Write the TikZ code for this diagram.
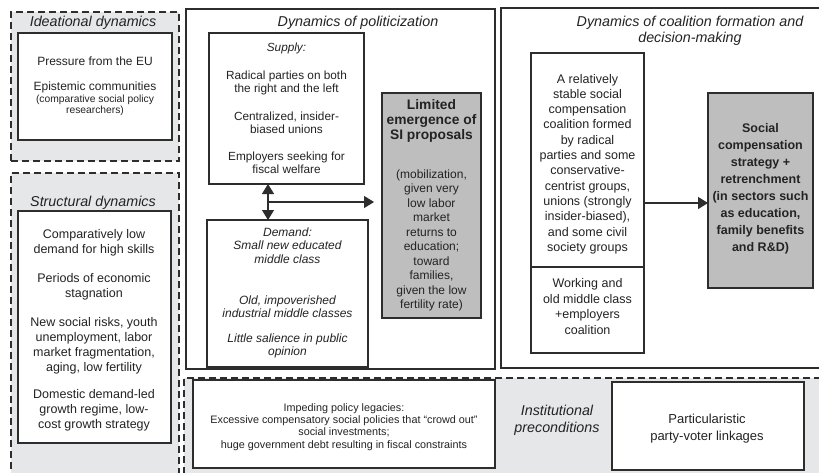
\documentclass[tikz,border=0pt]{standalone}
\usepackage{fontspec}
\setmainfont{Liberation Sans}
\usetikzlibrary{arrows.meta}
\definecolor{lc}{RGB}{45,45,45}
\definecolor{tc}{RGB}{35,35,35}
\definecolor{bg}{RGB}{230,231,232}
\definecolor{gb}{RGB}{190,190,190}
\begin{document}
\begin{tikzpicture}[x=1pt,y=-1pt,
  dashbox/.style={draw=lc, line width=1.3pt, dash pattern=on 7pt off 4pt, fill=bg, inner sep=0pt, outer sep=0pt, anchor=north west},
  solidbox/.style={draw=lc, line width=1.1pt, fill=white, inner sep=0pt, outer sep=0pt, anchor=north west},
  graybox/.style={solidbox, fill=gb},
  ttl/.style={font=\itshape\fontsize{14.3}{17}\selectfont, text=tc, align=center, inner sep=0pt},
  txt/.style={text=tc, align=center, inner sep=0pt},
  arr/.style={draw=lc, line width=1.3pt, -{Triangle[length=10pt,width=12pt]}},
  darr/.style={draw=lc, line width=1.3pt, {Triangle[length=10pt,width=12pt]}-{Triangle[length=10pt,width=12pt]}},
]
\useasboundingbox (0,0) rectangle (819,472);
% outer frames
\node[dashbox, minimum width=168pt, minimum height=149pt] (ideas) at (11,12) {};
\node[dashbox, minimum width=168pt, minimum height=310pt] (struct) at (11,173) {};
\node[dashbox, minimum width=640pt, minimum height=105pt] (inst) at (184,378) {};
\node[solidbox, minimum width=309pt, minimum height=360pt] (polit) at (186,9) {};
\node[solidbox, minimum width=320pt, minimum height=360pt] (coal) at (501,8) {};
% inner boxes
\node[solidbox, minimum width=154pt, minimum height=107pt] (ideasin) at (18,33) {};
\node[solidbox, minimum width=153pt, minimum height=232pt] (structin) at (18,211) {};
\node[solidbox, minimum width=155pt, minimum height=151pt] (supply) at (209,33) {};
\node[solidbox, minimum width=161pt, minimum height=147pt] (demand) at (207,220) {};
\node[graybox, minimum width=99pt, minimum height=225pt] (sip) at (382,93) {};
\node[solidbox, minimum width=113pt, minimum height=214pt] (upper) at (531,53) {};
\node[solidbox, minimum width=113pt, minimum height=86pt] (lower) at (531,267) {};
\node[graybox, minimum width=105pt, minimum height=195pt] (soc) at (708,93) {};
\node[solidbox, minimum width=302pt, minimum height=88pt] (imped) at (193,380) {};
\node[solidbox, minimum width=192pt, minimum height=88pt] (partic) at (612,382) {};
% titles
\node[ttl] (ideasT) at (93,23) {Ideational dynamics};
\node[ttl] (structT) at (93,203) {Structural dynamics};
\node[ttl] (politT) at (358,23) {Dynamics of politicization};
\node[ttl, font=\itshape\fontsize{14.3}{16}\selectfont] (coalT) at (690,31) {Dynamics of coalition formation and\\decision-making};
\node[ttl] (instT) at (557,420.5) {Institutional\\preconditions};
% ideational texts
\node[txt, font=\fontsize{12}{14}\selectfont] (i1) at (95,61) {Pressure from the EU};
\node[txt, font=\fontsize{12}{14}\selectfont] (i2) at (95,87) {Epistemic communities};
\node[txt, font=\fontsize{10.3}{11.5}\selectfont] (i3) at (95,105.5) {(comparative social policy\\researchers)};
% structural texts
\begin{scope}[every node/.style={txt, font=\fontsize{12.5}{15}\selectfont}]
\node (s1) at (94,243) {Comparatively low\\demand for high skills};
\node (s2) at (94,287) {Periods of economic\\stagnation};
\node (s3) at (94,346) {New social risks, youth\\unemployment, labor\\market fragmentation,\\aging, low fertility};
\node (s4) at (94,410.5) {Domestic demand-led\\growth regime, low-\\cost growth strategy};
\end{scope}
% supply
\begin{scope}[every node/.style={txt, font=\fontsize{11.8}{13}\selectfont}]
\node[font=\itshape\fontsize{11.8}{13}\selectfont] (sup0) at (286.5,48) {Supply:};
\node (sup1) at (286.5,82.5) {Radical parties on both\\the right and the left};
\node (sup2) at (286.5,123) {Centralized, insider-\\biased unions};
\node (sup3) at (286.5,162.5) {Employers seeking for\\fiscal welfare};
\end{scope}
% demand
\begin{scope}[every node/.style={txt, font=\itshape\fontsize{12}{13.5}\selectfont}]
\node (dem1) at (287.5,245.5) {Demand:\\Small new educated\\middle class};
\node (dem2) at (287.5,306.5) {Old, impoverished\\industrial middle classes};
\node (dem3) at (287.5,346) {Little salience in public\\opinion};
\end{scope}
% gray box 1
\node[txt, font=\bfseries\fontsize{13.8}{15}\selectfont] (sipb) at (431.5,121) {Limited\\emergence of\\SI proposals};
\node[txt, font=\fontsize{12}{14.5}\selectfont] (sipt) at (431.5,240.5) {(mobilization,\\given very\\low labor\\market\\returns to\\education;\\toward\\families,\\given the low\\fertility rate)};
% coalition
\node[txt, font=\fontsize{12.5}{15.3}\selectfont] (upt) at (587.5,164) {A relatively\\stable social\\compensation\\coalition formed\\by radical\\parties and some\\conservative-\\centrist groups,\\unions (strongly\\insider-biased),\\and some civil\\society groups};
\node[txt, font=\fontsize{12.5}{15.5}\selectfont] (lot) at (587.5,306.5) {Working and\\old middle class\\+employers\\coalition};
\node[txt, font=\bfseries\fontsize{12.5}{17}\selectfont] (soct) at (760.5,188.5) {Social\\compensation\\strategy +\\retrenchment\\(in sectors such\\as education,\\family benefits\\and R\&D)};
% bottom row
\node[txt, font=\fontsize{10.8}{12.3}\selectfont] (impt) at (344,427) {Impeding policy legacies:\\Excessive compensatory social policies that “crowd out”\\social investments;\\huge government debt resulting in fiscal constraints};
\node[txt, font=\fontsize{13}{17}\selectfont] (partt) at (707,428.5) {Particularistic\\party-voter linkages};
% connectors
\coordinate (j) at (268,202);
\draw[darr] (supply.south -| j) -- (demand.north -| j);
\draw[arr, shorten >=8pt] (j) -- (sip.west |- j);
\coordinate (ca) at (644,203);
\draw[arr] (upper.east |- ca) -- (soc.west |- ca);
\end{tikzpicture}
\end{document}
